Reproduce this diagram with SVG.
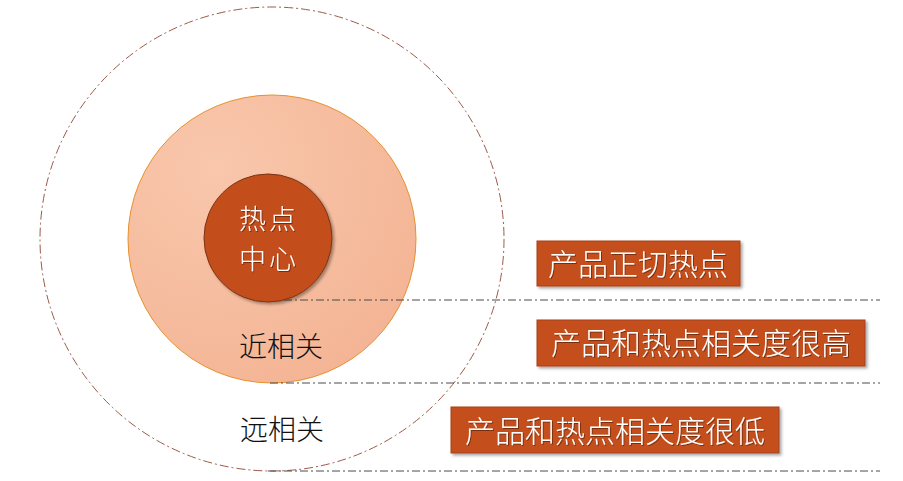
<svg xmlns="http://www.w3.org/2000/svg" width="903" height="481" viewBox="0 0 903 481">
<style>
.guide{fill:none;stroke:#4a4a4a;stroke-width:1;stroke-dasharray:8 3 2 3}
.box{fill:#c44f1d;stroke:#a8401a;stroke-width:1;filter:url(#sh)}
.bt{font-family:"Noto Sans CJK SC",sans-serif;font-weight:300;font-size:30px;fill:#ffffff;text-anchor:middle;filter:url(#ts)}
.ct{font-family:"Noto Sans CJK SC",sans-serif;font-weight:300;font-size:27px;letter-spacing:3px;fill:#ffffff;text-anchor:middle;filter:url(#ts)}
.lt{font-family:"Noto Sans CJK SC",sans-serif;font-weight:300;font-size:28px;fill:#111111;text-anchor:middle}
</style>
<defs>
<radialGradient id="g1" cx="0.3" cy="0.25" r="0.9">
<stop offset="0" stop-color="#f9c7ac"/>
<stop offset="1" stop-color="#f3b393"/>
</radialGradient>
<filter id="sh" x="-10%" y="-20%" width="130%" height="150%">
<feDropShadow dx="2" dy="2" stdDeviation="1.5" flood-color="#000" flood-opacity="0.35"/>
</filter>
<filter id="ts" x="-10%" y="-20%" width="130%" height="150%">
<feDropShadow dx="1" dy="1" stdDeviation="0.6" flood-color="#000" flood-opacity="0.4"/>
</filter>
</defs>
<g id="outer-ring">
<circle cx="272" cy="239" r="232" fill="none" stroke="#9c5a48" stroke-width="1" stroke-dasharray="9 3 2 3"/>
</g>
<g id="middle-ring">
<circle cx="272" cy="239" r="144" fill="url(#g1)" stroke="#e8902e" stroke-width="1"/>
</g>
<g id="connectors">
<line class="guide" x1="268" y1="300" x2="880" y2="300"/>
<line class="guide" x1="270" y1="383" x2="880" y2="383"/>
<line class="guide" x1="268" y1="471" x2="880" y2="471"/>
</g>
<g id="hot-center">
<circle cx="268" cy="238" r="64" fill="#c44e1a" stroke="#7a3416" stroke-width="1" filter="url(#sh)"/>
<text class="ct" x="269" y="229">热点</text>
<text class="ct" x="269" y="269">中心</text>
</g>
<g id="near-label"><text class="lt" x="281" y="357">近相关</text></g>
<g id="far-label"><text class="lt" x="282" y="440">远相关</text></g>
<g id="box1">
<rect class="box" x="537" y="241" width="203" height="45"/>
<text class="bt" x="638" y="275">产品正切热点</text>
</g>
<g id="box2">
<rect class="box" x="537" y="320" width="328" height="46"/>
<text class="bt" x="701" y="354">产品和热点相关度很高</text>
</g>
<g id="box3">
<rect class="box" x="451" y="407" width="328" height="46"/>
<text class="bt" x="615" y="442">产品和热点相关度很低</text>
</g>
</svg>
